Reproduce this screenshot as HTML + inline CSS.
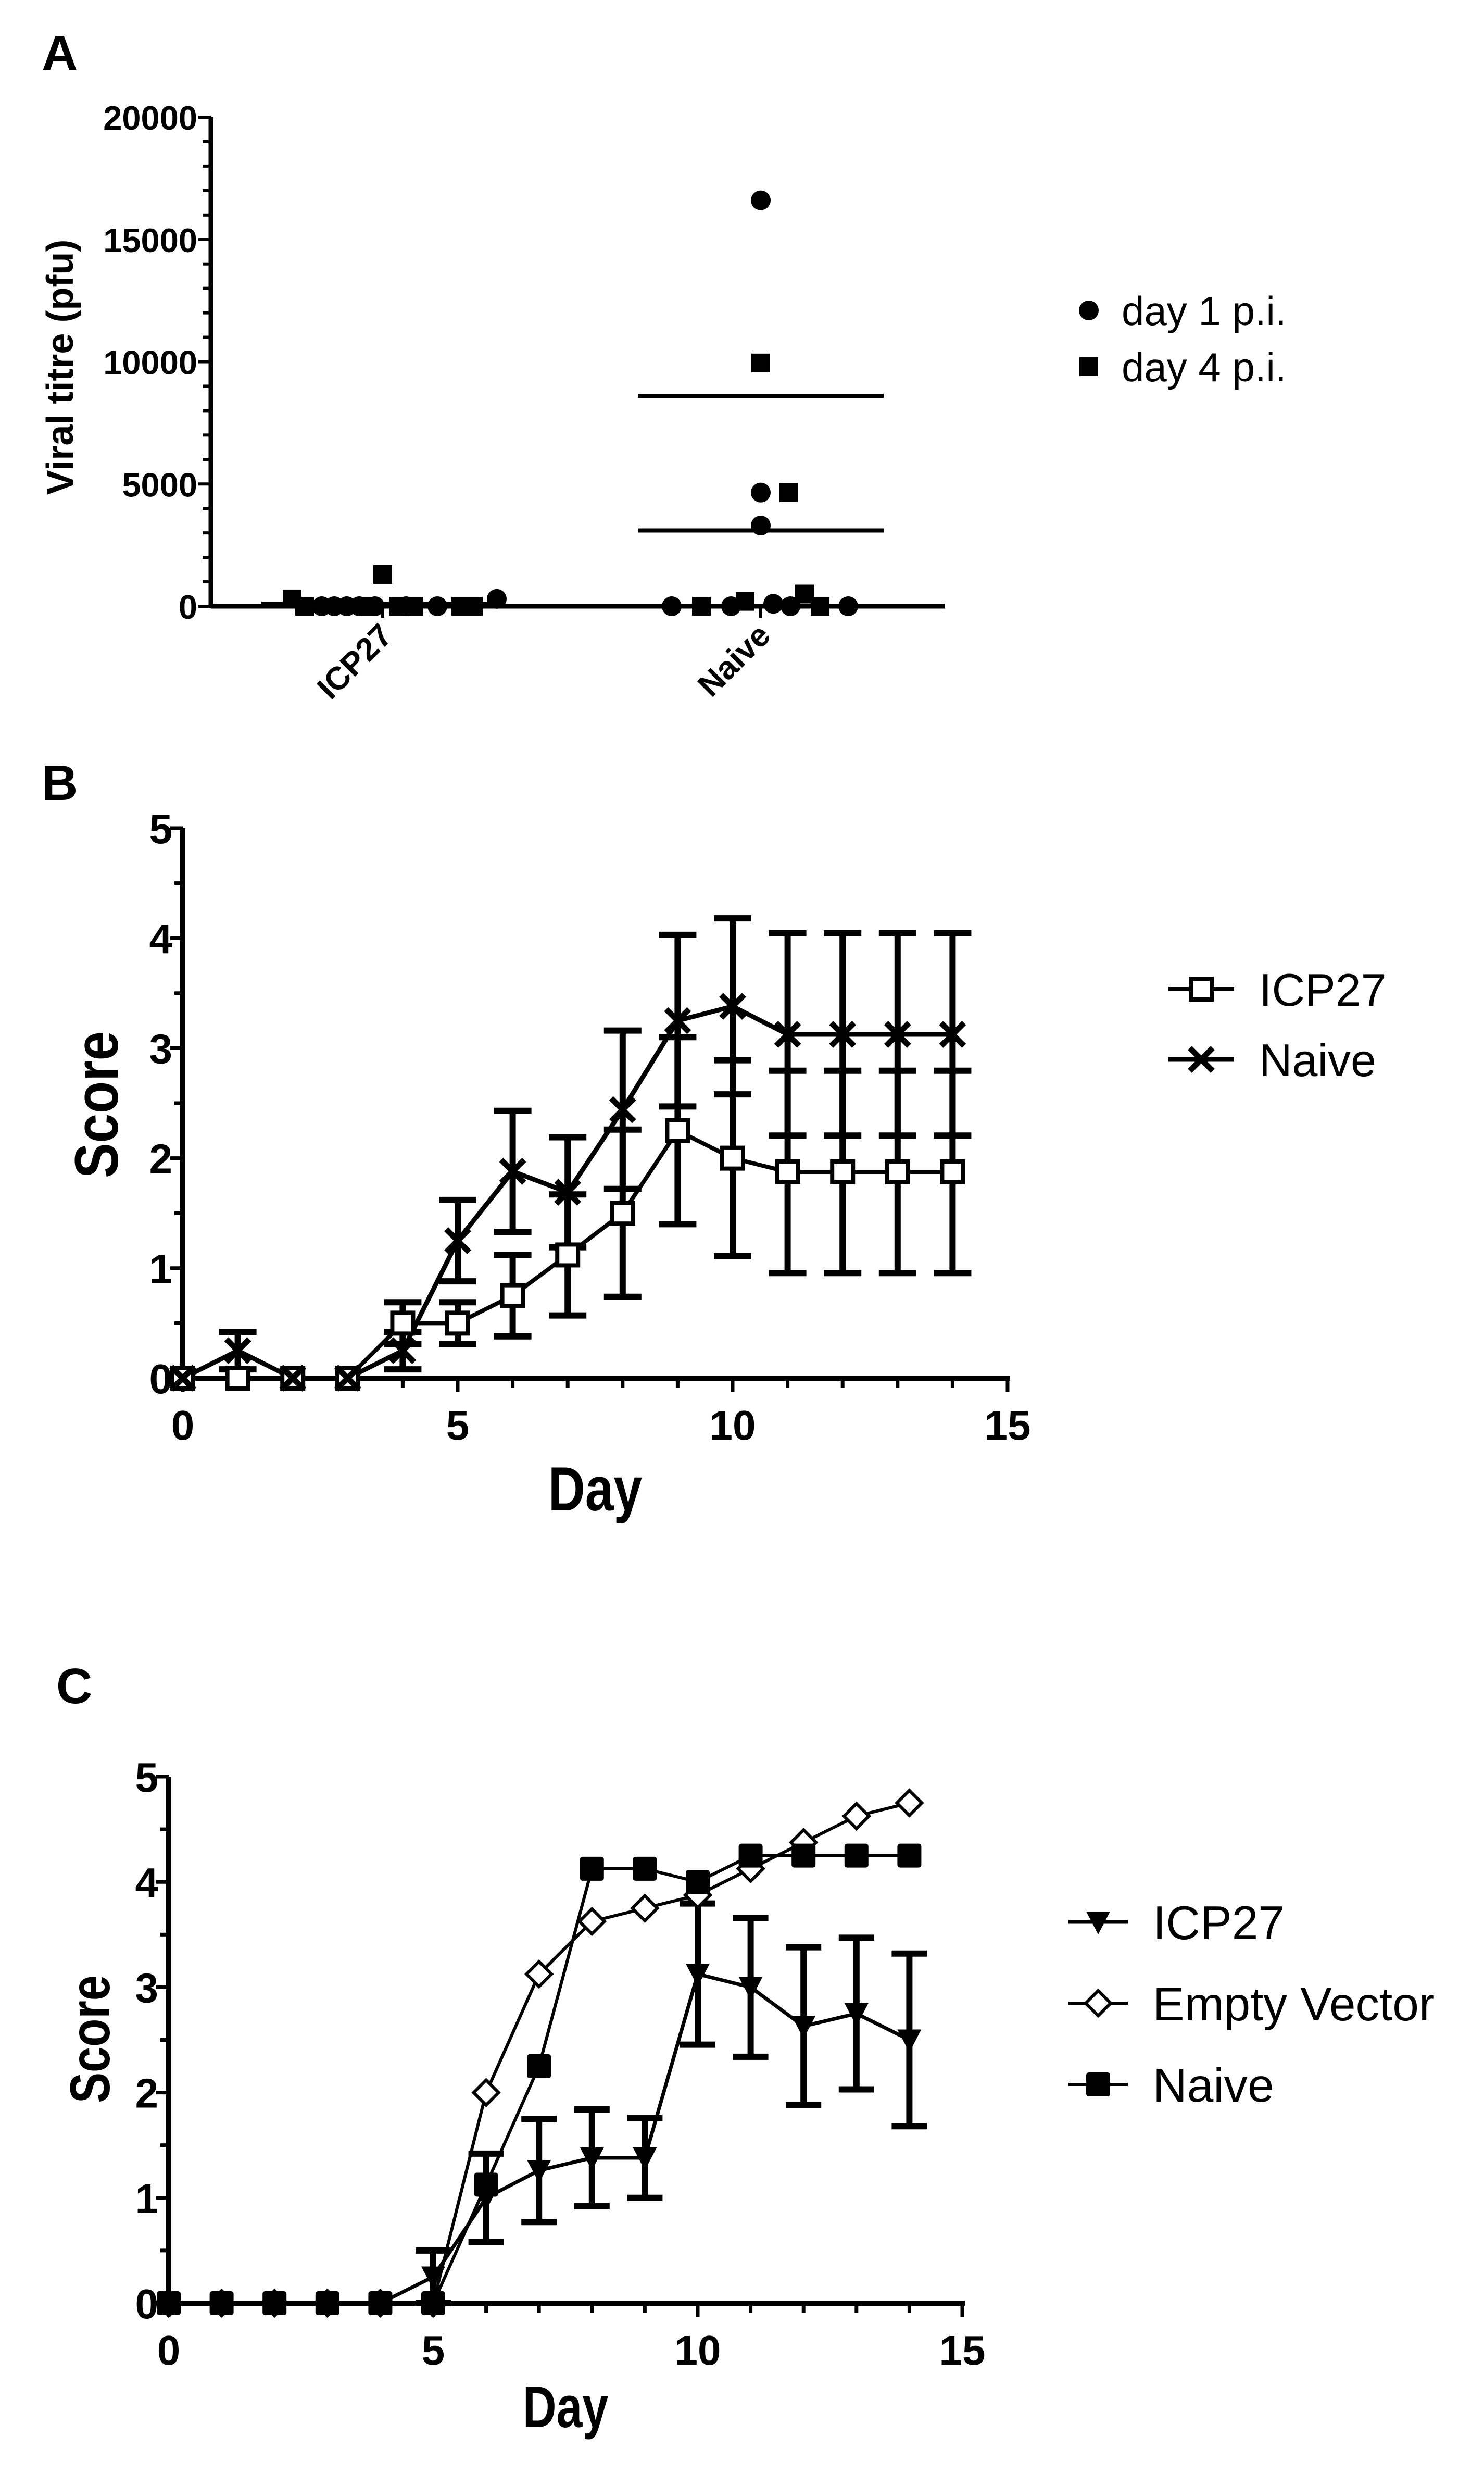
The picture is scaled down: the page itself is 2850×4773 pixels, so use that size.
<!DOCTYPE html>
<html><head><meta charset="utf-8"><style>
html,body{margin:0;padding:0;background:#fff}
svg{display:block}
text{font-family:"Liberation Sans",Arial,sans-serif;fill:#000}
.b{font-weight:bold}
</style></head><body>
<svg id="fig" width="2850" height="4773" viewBox="0 0 2850 4773" xmlns="http://www.w3.org/2000/svg">
<rect width="2850" height="4773" fill="#fff"/>
<g id="pA"></g>
<g id="pB"></g>
<g id="pC"></g>
</svg>
<script>
// ---------- Panel A data ----------
const aCategories = ["ICP27", "Naive"];
const aYTicks = [0, 5000, 10000, 15000, 20000];
const aIcpDay1 = [0, 0, 0, 0, 0, 0, 0, 300];
const aIcpDay1Jitter = [-39, -31, -23, -15, -5, 15, 35, 73];
const aIcpDay4 = [300, 0, 0, 1300, 0, 0, 0, 0];
const aIcpDay4Jitter = [-58, -50, -10, 0, 10, 20, 50, 58];
const aNaiveDay1 = [0, 0, 3300, 4650, 16600, 100, 0, 0];
const aNaiveDay1Jitter = [-57, -19, 0, 0, 0, 8, 19, 56];
const aNaiveDay4 = [0, 200, 9950, 4650, 500, 0];
const aNaiveDay4Jitter = [-38, -10, 0, 18, 28, 38];
const aMeans = [[100, 100], [3100, 8600]];

// ---------- Panel B data ----------
const bDays = [0,1,2,3,4,5,6,7,8,9,10,11,12,13,14];
const bIcp = [0,0,0,0,0.5,0.5,0.75,1.12,1.5,2.25,2.0,1.875,1.875,1.875,1.875];
const bIcpErr = [0,0,0,0,0.19,0.19,0.37,0.55,0.76,0.85,0.89,0.92,0.92,0.92,0.92];
const bNaive = [0,0.25,0,0,0.25,1.25,1.88,1.69,2.44,3.25,3.38,3.125,3.125,3.125,3.125];
const bNaiveErr = [0,0.17,0,0,0.17,0.37,0.55,0.5,0.72,0.78,0.8,0.92,0.92,0.92,0.92];

// ---------- Panel C data ----------
const cDays = [0,1,2,3,4,5,6,7,8,9,10,11,12,13,14];
const cIcp = [0,0,0,0,0,0.25,1.0,1.26,1.38,1.38,3.125,3.0,2.63,2.75,2.5];
const cIcpErr = [0,0,0,0,0,0.25,0.42,0.49,0.46,0.38,0.67,0.66,0.75,0.72,0.82];
const cEmpty = [0,0,0,0,0,0,2.0,3.125,3.625,3.75,3.875,4.125,4.375,4.625,4.75];
const cNaive = [0,0,0,0,0,0,1.125,2.25,4.125,4.125,4.0,4.25,4.25,4.25,4.25];
const scoreTicks = [0,1,2,3,4,5];
const dayTicks = [0,5,10,15];

const NS = "http://www.w3.org/2000/svg";
function el(parent, tag, attrs, txt){
  const e = document.createElementNS(NS, tag);
  for (const k in attrs) e.setAttribute(k, attrs[k]);
  if (txt !== undefined) e.textContent = txt;
  parent.appendChild(e);
  return e;
}
function line(p,x1,y1,x2,y2,w){return el(p,"line",{x1,y1,x2,y2,stroke:"#000","stroke-width":w,"stroke-linecap":"butt"});}

// ================= PANEL A =================
(function(){
  const g = document.getElementById("pA");
  const X0=405, X1=1815, Y0=1164, Y1=225, YMAX=20000;
  const y = v => Y0 - (v/YMAX)*(Y0-Y1);
  const xc = i => [735,1461][i];
  const t = el(g,"text",{x:80,y:135,"font-size":96,class:"b"},"A");
   
  const ax = el(g,"g",{});
   
  line(ax,X0,Y1,X0,Y0+4,9);
  for(let v=0; v<=YMAX; v+=1000){ line(ax,X0-(v%5000===0?24:16),y(v),X0,y(v),6); }
  aYTicks.forEach(v=>{
    const tt = el(ax,"text",{x:X0-26,y:y(v)+24,"text-anchor":"end","font-size":65,class:"b"},String(v));
     
  });
  const yt = el(g,"text",{x:0,y:0,"font-size":72,class:"b","text-anchor":"middle",transform:"translate(140,705) rotate(-90)"},"Viral titre (pfu)");
   
  const xa = el(g,"g",{});
   
  line(xa,X0,Y0,X1,Y0,9);
  aCategories.forEach((c,i)=>{
    line(xa,xc(i),Y0,xc(i),Y0+22,6);
    const tt = el(xa,"text",{x:0,y:0,"font-size":62,class:"b","text-anchor":"end",transform:`translate(${xc(i)+22},${Y0+60}) rotate(-45)`},c);
     
  });
  function dots(vals,jit,ci,shape,name){
    vals.forEach((v,i)=>{
      const cx = xc(ci)+jit[i]*3, cy=y(v);
      let m;
      if(shape==="c") m = el(g,"circle",{cx,cy,r:19,fill:"#000"});
      else m = el(g,"rect",{x:cx-18,y:cy-18,width:36,height:36,fill:"#000"});
       
    });
  }
  dots(aIcpDay1,aIcpDay1Jitter,0,"c","icp27-day1-point");
  dots(aIcpDay4,aIcpDay4Jitter,0,"s","icp27-day4-point");
  dots(aNaiveDay1,aNaiveDay1Jitter,1,"c","naive-day1-point");
  dots(aNaiveDay4,aNaiveDay4Jitter,1,"s","naive-day4-point");
  aMeans.forEach((mm,i)=>mm.forEach(v=>{
    const half = i===0?233:236;
    const l = line(g,xc(i)-half,y(v),xc(i)+half,y(v),8);
     
  }));
  const lg = el(g,"g",{});
   
  el(lg,"circle",{cx:2091,cy:596,r:19,fill:"#000"});
  const l1 = el(lg,"text",{x:2154,y:624,"font-size":78},"day 1 p.i.");
   
  el(lg,"rect",{x:2073,y:686,width:36,height:36,fill:"#000"});
  const l2 = el(lg,"text",{x:2154,y:732,"font-size":78},"day 4 p.i.");
   
})();

// ---------- common line chart axes ----------
function axes(g, X0, X15, Y0, Y5){
  const xs = d => X0 + d*(X15-X0)/15;
  const ys = v => Y0 - v*(Y0-Y5)/5;
  const ya = el(g,"g",{});
   
  line(ya,X0,Y5,X0,Y0+5,10);
  for(let v=0; v<=5; v+=0.5) line(ya,X0-(v%1===0?24:16),ys(v),X0,ys(v),7);
  scoreTicks.forEach(v=>{
    const tt = el(ya,"text",{x:X0-20,y:ys(v)+29,"text-anchor":"end","font-size":80,class:"b"},String(v));
     
  });
  const xa = el(g,"g",{});
   
  line(xa,X0,Y0,X15+5,Y0,10);
  for(let d=0; d<=15; d++) line(xa,xs(d),Y0,xs(d),Y0+(d%5===0?26:18),7);
  dayTicks.forEach(d=>{
    const tt = el(xa,"text",{x:xs(d),y:Y0+118,"text-anchor":"middle","font-size":80,class:"b"},String(d));
     
  });
  return {xs,ys};
}
function errBars(g,days,vals,errs,xs,ys,name,w,cap){
  days.forEach((d,i)=>{
    if(!errs[i]) return;
    const eg = el(g,"g",{});
     
    const x=xs(d), t=ys(vals[i]+errs[i]), b=ys(vals[i]-errs[i]);
    line(eg,x,t,x,b,w); line(eg,x-cap,t,x+cap,t,w); line(eg,x-cap,b,x+cap,b,w);
  });
}
function series(g,days,vals,xs,ys,name,w){
  const pts = days.map((d,i)=>xs(d)+","+ys(vals[i])).join(" ");
  const p = el(g,"polyline",{points:pts,fill:"none",stroke:"#000","stroke-width":w});
   
}
function marker(g,type,x,y,name){
  let m;
  if(type==="sq") m = el(g,"rect",{x:x-20,y:y-20,width:40,height:40,fill:"#fff",stroke:"#000","stroke-width":8});
  else if(type==="x"){ m = el(g,"path",{d:`M${x-22},${y-22}L${x+22},${y+22}M${x-22},${y+22}L${x+22},${y-22}`,stroke:"#000","stroke-width":11,fill:"none"}); }
  else if(type==="tri") m = el(g,"path",{d:`M${x-23},${y-20}L${x+23},${y-20}L${x},${y+24}Z`,fill:"#000"});
  else if(type==="dia") m = el(g,"path",{d:`M${x},${y-24}L${x+24},${y}L${x},${y+24}L${x-24},${y}Z`,fill:"#fff",stroke:"#000","stroke-width":6});
  else if(type==="fsq") m = el(g,"rect",{x:x-23,y:y-23,width:46,height:46,rx:5,fill:"#000"});
   
}

// ================= PANEL B =================
(function(){
  const g = document.getElementById("pB");
  const t = el(g,"text",{x:80,y:1536,"font-size":96,class:"b"},"B");
   
  const {xs,ys} = axes(g,351,1935,2646,1590);
  const xt = el(g,"text",{x:0,y:0,"text-anchor":"middle","font-size":120,class:"b",transform:"translate(1143,2900) scale(0.82,1)"},"Day");
   
  const yt = el(g,"text",{x:0,y:0,"text-anchor":"middle","font-size":118,class:"b",transform:"translate(226,2121) rotate(-90) scale(0.86,1)"},"Score");
   
  errBars(g,bDays,bNaive,bNaiveErr,xs,ys,"naive-error-bar",12,36);
  errBars(g,bDays,bIcp,bIcpErr,xs,ys,"icp27-error-bar",12,36);
  series(g,bDays,bIcp,xs,ys,"icp27-line",8);
  series(g,bDays,bNaive,xs,ys,"naive-line",9);
  bDays.forEach((d,i)=>marker(g,"sq",xs(d),ys(bIcp[i]),"icp27-point"));
  bDays.forEach((d,i)=>marker(g,"x",xs(d),ys(bNaive[i]),"naive-point"));
  const lg = el(g,"g",{});
   
  line(lg,2244,1899,2370,1899,8); marker(lg,"sq",2307,1899,"legend-icp27-marker");
  const a = el(lg,"text",{x:2418,y:1931,"font-size":88},"ICP27");
   
  line(lg,2244,2034,2370,2034,9); marker(lg,"x",2307,2034,"legend-naive-marker");
  const b = el(lg,"text",{x:2418,y:2066,"font-size":88},"Naive");
   
})();

// ================= PANEL C =================
(function(){
  const g = document.getElementById("pC");
  const t = el(g,"text",{x:108,y:3270,"font-size":96,class:"b"},"C");
   
  const {xs,ys} = axes(g,324,1848,4422,3411);
  const xt = el(g,"text",{x:0,y:0,"text-anchor":"middle","font-size":112,class:"b",transform:"translate(1086,4660) scale(0.8,1)"},"Day");
   
  const yt = el(g,"text",{x:0,y:0,"text-anchor":"middle","font-size":108,class:"b",transform:"translate(210,3915) rotate(-90) scale(0.82,1)"},"Score");
   
  errBars(g,cDays,cIcp,cIcpErr,xs,ys,"icp27-error-bar",12,34);
  series(g,cDays,cIcp,xs,ys,"icp27-line",7);
  series(g,cDays,cEmpty,xs,ys,"empty-vector-line",6);
  series(g,cDays,cNaive,xs,ys,"naive-line",6);
  cDays.forEach((d,i)=>marker(g,"dia",xs(d),ys(cEmpty[i]),"empty-vector-point"));
  cDays.forEach((d,i)=>marker(g,"fsq",xs(d),ys(cNaive[i]),"naive-point"));
  cDays.forEach((d,i)=>marker(g,"tri",xs(d),ys(cIcp[i]),"icp27-point"));
  const lg = el(g,"g",{});
   
  line(lg,2052,3690,2166,3690,7); marker(lg,"tri",2109,3690,"legend-icp27-marker");
  const a = el(lg,"text",{x:2214,y:3723,"font-size":91},"ICP27");
   
  line(lg,2052,3846,2166,3846,6); marker(lg,"dia",2109,3846,"legend-empty-vector-marker");
  const b = el(lg,"text",{x:2214,y:3879,"font-size":91},"Empty Vector");
   
  line(lg,2052,4002,2166,4002,6); marker(lg,"fsq",2109,4002,"legend-naive-marker");
  const c = el(lg,"text",{x:2214,y:4035,"font-size":91},"Naive");
   
})();
</script>
</body></html>
